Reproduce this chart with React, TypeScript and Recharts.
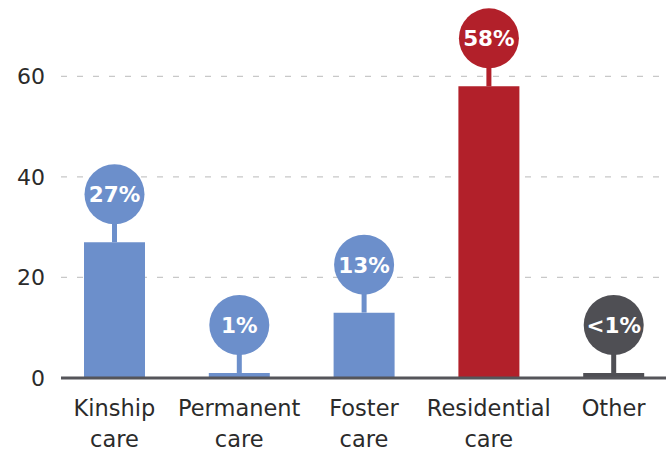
import { BarChart, Bar, XAxis, YAxis, CartesianGrid, Cell, LabelList } from 'recharts';

const categories = ['Kinship care', 'Permanent care', 'Foster care', 'Residential care', 'Other'];
const shares = [27, 1, 13, 58, 1];
const shareLabels = ['27%', '1%', '13%', '58%', '<1%'];
const barColors = ['#6c8fcb', '#6c8fcb', '#6c8fcb', '#b2202a', '#4f4f54'];
const yTicks = [0, 20, 40, 60];
const gridValues = [20, 40, 60];

const data = categories.map((name, i) => ({ name, value: shares[i] }));

const FONT = '"DejaVu Sans", sans-serif';

function CategoryTick(props: any) {
  const { x, y, payload } = props;
  const words = String(payload.value).split(' ');
  return (
    <text x={x} y={y} textAnchor="middle" fill="#2b2b2b" fontSize={22.5} fontFamily={FONT}>
      {words.map((w, i) => (
        <tspan key={i} x={x} dy={i === 0 ? 36 : 31}>{w}</tspan>
      ))}
    </text>
  );
}

function Bubble(props: any) {
  const { x, y, width, index } = props;
  const cx = x + width / 2;
  const cy = y - 48;
  const r = 30;
  const color = barColors[index];
  return (
    <g>
      <rect x={cx - 2.5} y={cy + r - 2} width={5} height={y - (cy + r) + 2} fill={color} />
      <circle cx={cx} cy={cy} r={r} fill={color} />
      <text x={cx} y={cy + 8} textAnchor="middle" fill="#fff" fontSize={21.5} fontWeight="bold" fontFamily={FONT}>
        {shareLabels[index]}
      </text>
    </g>
  );
}

export default function App() {
  return (
    <div style={{ position: 'absolute', left: 0, top: 0, width: 671, height: 451, background: '#fff' }}>
      <BarChart width={671} height={451} data={data} margin={{ top: 26, right: 5, bottom: 0, left: 0 }}>
        <CartesianGrid vertical={false} horizontalValues={gridValues} stroke="#c8c8c8" strokeDasharray="6 10" strokeWidth={1.2} />
        <XAxis
          dataKey="name"
          interval={0}
          padding={{ left: -9, right: -10 }}
          axisLine={{ stroke: '#55555a', strokeWidth: 3 }}
          tickLine={false}
          tickSize={0}
          tick={<CategoryTick />}
          height={73}
        />
        <YAxis
          domain={[0, 70]}
          ticks={yTicks}
          width={61}
          axisLine={false}
          tickLine={false}
          tickSize={0}
          tickMargin={16}
          tick={{ fill: '#2b2b2b', fontSize: 22, fontFamily: FONT }}
        />
        <Bar dataKey="value" barSize={61} isAnimationActive={false}>
          {data.map((d, i) => (
            <Cell key={d.name} fill={barColors[i]} />
          ))}
          <LabelList dataKey="value" content={<Bubble />} />
        </Bar>
      </BarChart>
    </div>
  );
}
